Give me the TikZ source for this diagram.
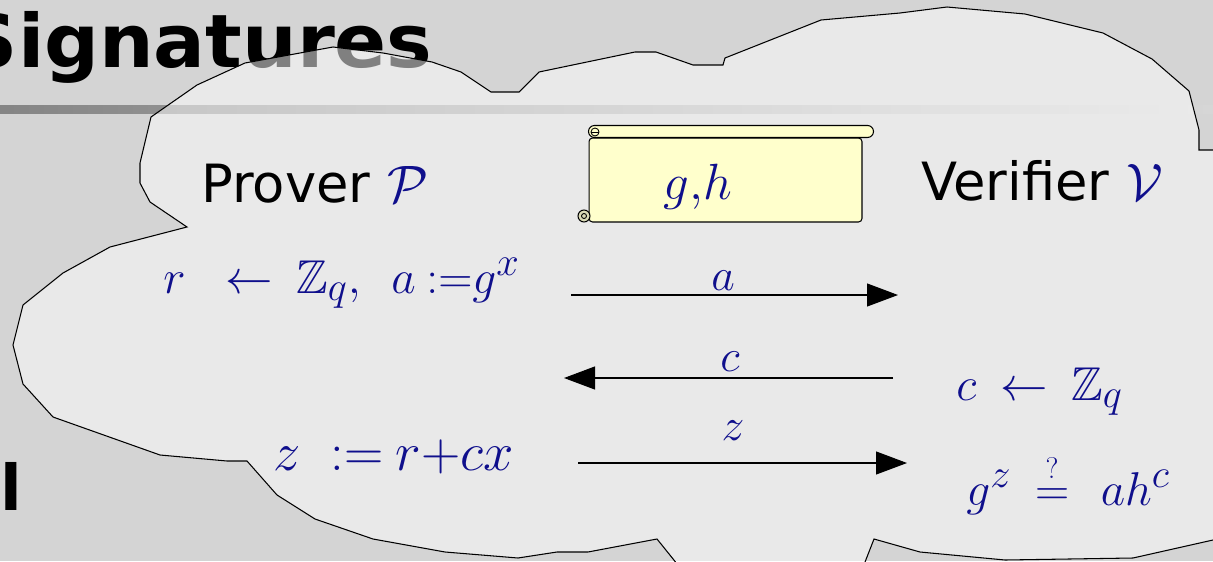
\RequirePackage{fix-cm}
\documentclass[tikz,border=0pt]{standalone}
\usepackage{amsmath,amssymb}
\DeclareFontFamily{U}{msb}{}
\DeclareFontShape{U}{msb}{m}{n}{<-6> msbm5 <6-8> msbm7 <8-> msbm10}{}
\DeclareMathSizes{27}{27}{23}{17}
\DeclareMathSizes{31}{31}{26}{20}
\usepackage{fontspec}
\setmainfont{DejaVu Sans}
\usepackage{tikz}
\usetikzlibrary{arrows.meta,positioning}
\definecolor{mathblue}{RGB}{15,15,140}
\definecolor{marble}{RGB}{212,212,212}
\definecolor{parchment}{RGB}{255,255,204}
\newcommand{\Pv}{\mathcal{P}}
\newcommand{\Vf}{\mathcal{V}}

\begin{document}
\begin{tikzpicture}[
    x=0.02cm, y=-0.02cm,
    heading/.style={font=\fontsize{42}{46}\selectfont\bfseries, anchor=base east, inner sep=0pt},
    role/.style={font=\fontsize{30}{32}\selectfont, anchor=base west, inner sep=0pt},
    mathtxt/.style={text=mathblue, font=\fontsize{#1}{#1}\selectfont, anchor=base west, inner sep=0pt},
    mathtxt/.default=27,
    lbl/.style={mathtxt=26, anchor=base},
    msg/.style={-{Triangle[length=0.62cm,width=0.46cm]}, line width=0.6pt},
    scrollbody/.style={draw, fill=parchment, line width=0.6pt, rounded corners=2pt, minimum width=5.46cm, minimum height=1.68cm, inner sep=0pt}
]
\useasboundingbox (0,0) rectangle (1213,561);
\fill[marble] (0,0) rectangle (1213,561);
% slide title and rule behind the cloud
\node[heading] (title) at (433,67) {\scalebox{1.04}[1]{Signatures}};
\shade[left color=black!48, right color=black!16] (0,105) rectangle (1213,113);
\node[font=\fontsize{36}{40}\selectfont\bfseries, anchor=base west, inner sep=0pt] (stub) at (0,510) {l};
% cloud
\filldraw[fill=white, fill opacity=0.5, line width=0.6pt]
  (151,117) -- (197,85) -- (245,63) -- (333,47) -- (383,53) -- (432,62) -- (461,72) -- (491,92) -- (519,92) -- (539,72)
  -- (635,52) -- (656,52) -- (693,65) -- (723,65) -- (725,58) -- (821,20) -- (900,13) -- (947,7) -- (1025,14) -- (1103,33)
  -- (1152,59) -- (1189,91) -- (1199,130) -- (1199,150) -- (1230,150) -- (1230,540) -- (1213,540) -- (1133,558) -- (1005,560)
  -- (920,552) -- (874,539) -- (858,580) -- (690,580) -- (657,539) -- (588,552) -- (557,552) -- (518,558) -- (445,552)
  -- (373,539) -- (315,519) -- (277,495) -- (247,461) -- (227,461) -- (160,455) -- (53,417) -- (23,384) -- (13,345)
  -- (23,305) -- (63,273) -- (110,247) -- (187,227) -- (150,202) -- (140,183) -- (140,163) -- cycle;
% public key scroll
\node[scrollbody] (scroll) at (725.5,180) {};
\filldraw[fill=parchment, line width=0.6pt, rounded corners=0.12cm] ([yshift=0.24cm]scroll.north west) rectangle ([xshift=0.22cm]scroll.north east);
\draw[line width=0.5pt] (595,132) circle[radius=0.08cm];
\draw[line width=0.5pt] (591,132) -- (599,132);
\filldraw[fill=parchment!70!gray, line width=0.6pt] (584,216) circle[radius=0.12cm];
\draw[line width=0.5pt] (584,216) circle[radius=0.05cm];
\node[mathtxt=29, anchor=base] (keys) at (698,199) {$g{,}h$};
% parties
\node[role] (prover) at (201,202) {Prover {\color{mathblue}$\Pv$}};
\node[role] (verifier) at (921,200) {Verifier {\color{mathblue}$\Vf$}};
\node[mathtxt] (commit) at (163,293) {$r\mskip 10mu\leftarrow\mskip 4mu\mathbb{Z}_q,\ \,a\mskip 4mu{:=}g^x$};
\node[mathtxt] (challenge) at (956,400) {$c\mskip 4mu\leftarrow\mskip 4mu\mathbb{Z}_q$};
\node[mathtxt=31] (response) at (273,470) {$z\mskip 10mu{:=}\mskip 4mu r{+}cx$};
\node[mathtxt] (check) at (966,505) {$g^z\mskip 4mu\overset{\scriptscriptstyle ?}{=}\mskip 7mu ah^c$};
% messages
\coordinate (aFrom) at (571,295);
\coordinate (aTo) at (898,295);
\coordinate (cFrom) at (893,378);
\coordinate (cTo) at (564,378);
\coordinate (zFrom) at (578,463);
\coordinate (zTo) at (907,463);
\draw[msg] (aFrom) -- (aTo);
\draw[msg] (cFrom) -- (cTo);
\draw[msg] (zFrom) -- (zTo);
\node[lbl] (lblA) at (723,290) {$a$};
\node[lbl] (lblC) at (730,371) {$c$};
\node[lbl] (lblZ) at (733,440) {$z$};
\end{tikzpicture}
\end{document}
